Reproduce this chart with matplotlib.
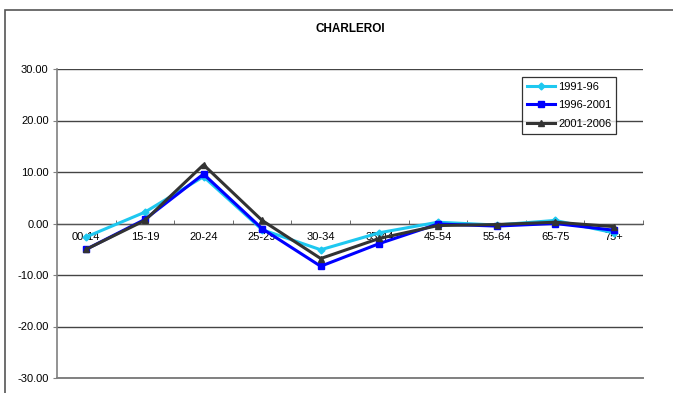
import matplotlib
matplotlib.use("Agg")
import matplotlib.pyplot as plt
from matplotlib.patches import Rectangle
import numpy as np

plt.rcParams['font.family'] = ['Liberation Sans', 'DejaVu Sans']

groups = ["00-14", "15-19", "20-24", "25-29", "30-34", "35-44",
          "45-54", "55-64", "65-75", "75+"]
p1991_96 = [-2.6, 2.2, 9.1, -1.2, -5.1, -1.8, 0.25, -0.3, 0.6, -1.8]
p1996_2001 = [-5.0, 0.8, 9.6, -1.0, -8.3, -3.9, -0.1, -0.5, 0.0, -1.3]
p2001_2006 = [-5.0, 0.6, 11.4, 0.6, -6.8, -2.9, -0.4, -0.2, 0.25, -0.6]


def main():
    fig = plt.figure(figsize=(6.73, 3.93), dpi=100)
    ax = fig.add_axes([57 / 673, 15 / 393, 586 / 673, 309 / 393])

    # outer chart frame (runs past the right and bottom edges)
    fig.patches.append(Rectangle((5 / 673, -0.05), 1.0, (393 - 10) / 393 + 0.05,
                                 transform=fig.transFigure, fill=False,
                                 edgecolor="#555555", linewidth=1.2))

    x = np.arange(len(groups))
    ax.plot(x, p1991_96, color="#1ec8f0", lw=2.2, marker="D", ms=3.5,
            label="1991-96", zorder=3)
    ax.plot(x, p1996_2001, color="#0000ff", lw=2.2, marker="s", ms=4.5,
            label="1996-2001", zorder=4)
    ax.plot(x, p2001_2006, color="#333333", lw=2.2, marker="^", ms=5,
            label="2001-2006", zorder=5)

    ax.set_xlim(-0.5, len(groups) - 0.5)
    ax.set_ylim(-30, 30)
    ax.set_yticks(np.arange(-30, 31, 10))
    ax.yaxis.set_major_formatter(matplotlib.ticker.FormatStrFormatter("%.2f"))
    ax.yaxis.grid(True, color="#444444", lw=1.0)
    ax.set_axisbelow(True)
    # bottom edge of the plot area
    ax.axhline(-30, color="#808080", lw=1.4, clip_on=False, zorder=1)

    ax.spines["top"].set_visible(False)
    ax.spines["right"].set_visible(False)
    ax.spines["left"].set_color("#808080")
    ax.spines["left"].set_linewidth(1.2)
    ax.spines["bottom"].set_position(("data", 0))
    ax.spines["bottom"].set_color("#555555")

    ax.set_xticks(x)
    ax.set_xticklabels(groups)
    ax.set_xticks(np.arange(-0.5, len(groups), 1.0), minor=True)
    ax.tick_params(axis="x", which="major", length=0, pad=6, labelsize=8)
    ax.tick_params(axis="x", which="minor", length=3, direction="in",
                   color="#555555")
    ax.tick_params(axis="y", length=3, color="#808080", labelsize=8, pad=3)

    ax.set_title("CHARLEROI", fontsize=8.5, fontweight="bold", pad=27)

    leg = ax.legend(loc="upper left", bbox_to_anchor=(465 / 586, 1 - 8 / 309),
                    fontsize=8, frameon=True, fancybox=False,
                    edgecolor="black", borderpad=0.45, labelspacing=0.75,
                    handlelength=2.5, handletextpad=0.3, borderaxespad=0)
    leg.get_frame().set_linewidth(0.9)

    fig.savefig("out.png", dpi=100)


if __name__ == "__main__":
    main()
